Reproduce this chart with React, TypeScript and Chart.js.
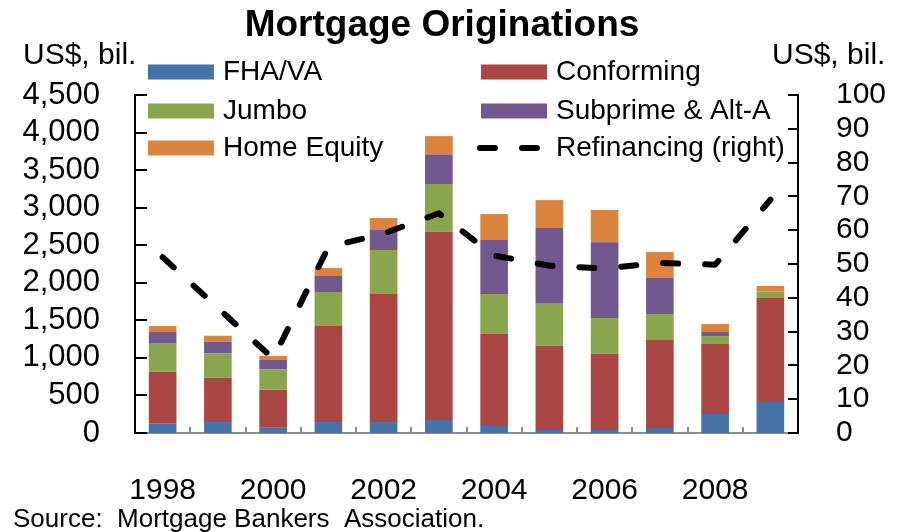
import React, { useEffect, useRef } from 'react';
import { Chart, registerables } from 'chart.js';

Chart.register(...registerables);

const years = ['1998', '1999', '2000', '2001', '2002', '2003', '2004', '2005', '2006', '2007', '2008', '2009'];
const fhaVa = [130, 146, 71, 146, 146, 173, 93, 40, 40, 67, 253, 413];
const conforming = [686, 590, 506, 1278, 1704, 2507, 1225, 1122, 1016, 1171, 932, 1384];
const jumbo = [373, 325, 271, 453, 586, 634, 532, 559, 475, 346, 106, 89];
const subprimeAltA = [155, 154, 124, 213, 266, 395, 719, 1008, 1007, 479, 53, 0];
const homeEquity = [80, 80, 53, 106, 160, 244, 346, 372, 430, 346, 107, 71];
const refinancing = [52, 37, 22, 55, 59, 65, 52.5, 49.5, 48.7, 50.3, 49.8, 69];

const FONT = '"Liberation Sans", Arial, Helvetica, sans-serif';

export default function App() {
  const ref = useRef<HTMLCanvasElement>(null);

  useEffect(() => {
    const canvas = ref.current;
    if (!canvas) return;

    const overlay = {
      id: 'overlay',
      afterDraw(chart: any) {
        const ctx = chart.ctx as CanvasRenderingContext2D;
        const xs = chart.scales.x;
        const ys = chart.scales.y;
        const y1 = chart.scales.y1;
        ctx.save();

        // inward tick marks, left axis
        ctx.strokeStyle = '#000';
        ctx.lineWidth = 2;
        ys.ticks.forEach((t: any) => {
          const py = Math.round(ys.getPixelForValue(t.value));
          ctx.beginPath();
          ctx.moveTo(ys.right, py);
          ctx.lineTo(ys.right + 12, py);
          ctx.stroke();
        });
        // inward tick marks, right axis
        y1.ticks.forEach((t: any) => {
          const py = Math.round(y1.getPixelForValue(t.value));
          ctx.beginPath();
          ctx.moveTo(y1.left, py);
          ctx.lineTo(y1.left - 10, py);
          ctx.stroke();
        });
        // x category boundary ticks
        const step = xs.getPixelForValue(1) - xs.getPixelForValue(0);
        ctx.strokeStyle = '#8c8c8c';
        ctx.lineWidth = 2;
        for (let i = 1; i < years.length; i++) {
          const px = Math.round(xs.getPixelForValue(i) - step / 2);
          ctx.beginPath();
          ctx.moveTo(px, xs.top);
          ctx.lineTo(px, xs.top - 6);
          ctx.stroke();
        }

        // title
        ctx.fillStyle = '#000';
        ctx.textBaseline = 'alphabetic';
        ctx.textAlign = 'center';
        ctx.font = `bold 37px ${FONT}`;
        ctx.fillText('Mortgage Originations', 442, 36);

        // axis titles
        ctx.font = `30px ${FONT}`;
        ctx.textAlign = 'left';
        ctx.fillText('US$, bil.', 23, 64);
        ctx.fillText('US$, bil.', 772, 64);

        // legend
        const colX = [148, 481];
        const rowY = [72, 111, 148];
        ctx.font = `28px ${FONT}`;
        ctx.textBaseline = 'middle';
        chart.data.datasets.forEach((ds: any, i: number) => {
          const cx = colX[i % 2];
          const cy = rowY[Math.floor(i / 2)];
          if (ds.type === 'line') {
            ctx.save();
            ctx.strokeStyle = ds.borderColor;
            ctx.lineWidth = ds.borderWidth;
            ctx.lineCap = 'round';
            ctx.setLineDash(ds.borderDash);
            ctx.beginPath();
            ctx.moveTo(cx - 1, cy);
            ctx.lineTo(cx + 59, cy);
            ctx.stroke();
            ctx.restore();
          } else {
            ctx.fillStyle = ds.backgroundColor;
            ctx.fillRect(cx, cy - 7.5, 66, 15);
          }
          ctx.fillStyle = '#000';
          ctx.fillText(ds.label, cx + 75, cy);
        });

        // source
        ctx.textBaseline = 'alphabetic';
        ctx.font = `26px ${FONT}`;
        ctx.fillText('Source:  Mortgage Bankers  Association.', 13, 527);

        ctx.restore();
      },
    };

    const barCommon = { barPercentage: 0.5, categoryPercentage: 1.0, order: 1, yAxisID: 'y', borderWidth: 0 };

    const chart = new Chart(canvas, {
      type: 'bar',
      data: {
        labels: years,
        datasets: [
          { ...barCommon, label: 'FHA/VA', data: fhaVa, backgroundColor: '#4572A7' },
          { ...barCommon, label: 'Conforming', data: conforming, backgroundColor: '#AA4643' },
          { ...barCommon, label: 'Jumbo', data: jumbo, backgroundColor: '#89A54E' },
          { ...barCommon, label: 'Subprime & Alt-A', data: subprimeAltA, backgroundColor: '#71588F' },
          { ...barCommon, label: 'Home Equity', data: homeEquity, backgroundColor: '#DB843D' },
          {
            type: 'line',
            label: 'Refinancing (right)',
            data: refinancing,
            yAxisID: 'y1',
            order: 0,
            borderColor: '#000',
            backgroundColor: '#000',
            borderWidth: 6,
            borderDash: [15, 27],
            borderCapStyle: 'round',
            borderJoinStyle: 'round',
            pointRadius: 0,
            tension: 0,
            fill: false,
          } as any,
        ],
      },
      options: {
        animation: false,
        responsive: false,
        devicePixelRatio: 1,
        layout: { padding: { top: 95, left: 0, right: 0, bottom: 0 } },
        plugins: {
          legend: { display: false },
          title: { display: false },
          tooltip: { enabled: false },
        },
        scales: {
          x: {
            stacked: true,
            grid: { display: false },
            border: { display: true, color: '#8c8c8c', width: 2 },
            ticks: {
              autoSkip: false,
              maxRotation: 0,
              padding: 32,
              color: '#000',
              font: { family: FONT, size: 30 },
              callback: (_v: any, idx: number) => (idx % 2 === 0 ? years[idx] : ''),
            },
            afterFit: (s: any) => {
              s.height = 99;
            },
          },
          y: {
            stacked: true,
            position: 'left',
            min: 0,
            max: 4500,
            grid: { display: false },
            border: { display: true, color: '#000', width: 2 },
            ticks: {
              autoSkip: false,
              stepSize: 500,
              padding: 27,
              color: '#000',
              font: { family: FONT, size: 31 },
              callback: (v: any) => Number(v).toLocaleString('en-US'),
            },
            afterFit: (s: any) => {
              s.width = 135;
            },
          },
          y1: {
            position: 'right',
            min: 0,
            max: 100,
            grid: { display: false },
            border: { display: true, color: '#000', width: 2 },
            ticks: {
              autoSkip: false,
              stepSize: 10,
              padding: 30,
              color: '#000',
              font: { family: FONT, size: 30 },
            },
            afterFit: (s: any) => {
              s.width = 104;
            },
          },
        },
      } as any,
      plugins: [overlay],
    });

    return () => chart.destroy();
  }, []);

  return (
    <div style={{ position: 'absolute', left: 0, top: 0, width: 902, height: 532, background: '#fff', overflow: 'hidden' }}>
      <canvas ref={ref} width={902} height={532} style={{ display: 'block', width: 902, height: 532 }} />
    </div>
  );
}
